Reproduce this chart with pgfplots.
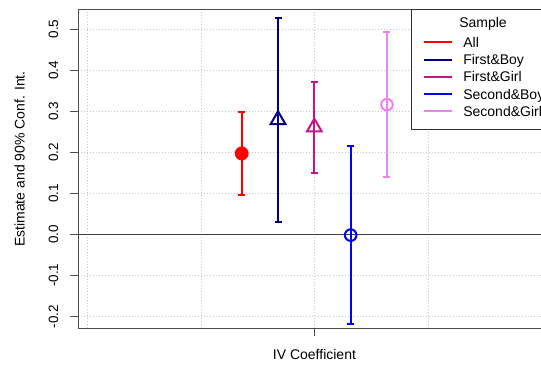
\documentclass[border=0pt]{standalone}
\usepackage{pgfplots}
\pgfplotsset{compat=1.18}
\usepackage{fontspec}
\setmainfont{Liberation Sans}
\definecolor{cAll}{HTML}{FF0000}
\definecolor{cFB}{HTML}{000080}
\definecolor{cFG}{HTML}{C71585}
\definecolor{cSB}{HTML}{0000FF}
\definecolor{cSG}{HTML}{EE82EE}
\begin{document}
\fontsize{14bp}{16bp}\selectfont
\begin{tikzpicture}
\useasboundingbox (-78.3bp,-36.7bp) rectangle (462.7bp,328.3bp);
\begin{axis}[
  at={(0,0)}, anchor=south west,
  scale only axis, width=463bp, height=319.3bp,
  xmin=0.584, xmax=1.4, ymin=-0.229, ymax=0.549,
  axis line style={black!70, line width=0.8bp},
  xtick={1}, xticklabels={}, minor xtick={0.6,0.8,1.2,1.4},
  ytick={-0.2,-0.1,0,0.1,0.2,0.3,0.4,0.5},
  yticklabels={-0.2,-0.1,0.0,0.1,0.2,0.3,0.4,0.5},
  tick align=outside, major tick length=8bp, minor tick length=0pt,
  tick style={black!70, line width=0.8bp},
  xtick pos=bottom, ytick pos=left,
  xmajorgrids, xminorgrids, ymajorgrids,
  major grid style={black!22, line width=0.6bp, dash pattern=on 1bp off 2bp},
  minor grid style={black!22, line width=0.6bp, dash pattern=on 1bp off 2bp},
  yticklabel style={rotate=90, anchor=south, inner sep=0pt},
  yticklabel shift=11.8bp,
  ticklabel style={font=\fontsize{13.5bp}{16bp}\selectfont},
  ylabel={Estimate and 90\% Conf. Int.},
  ylabel style={at={(axis description cs:-0.127,0.53)}, anchor=center, font=\fontsize{14bp}{16bp}\selectfont},
  xlabel={IV Coefficient},
  xlabel style={at={(axis description cs:0.51,0)}, anchor=center, yshift=-25.7bp, font=\fontsize{14bp}{16bp}\selectfont},
  legend style={at={(0.7186,1)}, anchor=north west, draw=black!80, line width=0.6bp,
    inner xsep=11.3bp, inner ysep=10.3bp, row sep=3.75bp, column sep=10.7bp,
    nodes={inner sep=0pt, text height=10.5bp, text depth=3bp, anchor=base west},
    font=\fontsize{14bp}{16bp}\selectfont},
  legend cell align=left,
  legend image code/.code={\draw[#1, line width=2bp] (0bp,5bp) -- (28bp,5bp);},
  error bars/y dir=both, error bars/y explicit,
  error bars/error bar style={line width=2bp},
  error bars/error mark options={rotate=90, mark size=3.5bp, line width=2bp},
]
\addplot[black!75, line width=0.8bp, forget plot] coordinates {(0.584,0) (1.4,0)};
\addplot[only marks, cAll, mark=*, mark size=6.5bp, mark options={line width=0.8bp}, forget plot]
  coordinates {(0.872,0.197) +- (0,0.102)};
\addplot[only marks, cFB, mark=triangle, mark size=8.5bp, mark options={line width=2bp}, forget plot]
  coordinates {(0.936,0.279) +- (0,0.249)};
\addplot[only marks, cFG, mark=triangle, mark size=8.5bp, mark options={line width=2bp}, forget plot]
  coordinates {(1.0,0.261) +- (0,0.111)};
\addplot[only marks, cSB, mark=o, mark size=5.8bp, mark options={line width=2bp}, forget plot]
  coordinates {(1.064,-0.002) +- (0,0.216)};
\addplot[only marks, cSG, mark=o, mark size=5.8bp, mark options={line width=2bp}, forget plot]
  coordinates {(1.128,0.316) +- (0,0.176)};
\addlegendimage{empty legend}
\addlegendentry{\hspace{-4bp}\raisebox{2.8bp}{Sample}}
\addlegendimage{cAll}
\addlegendentry{All}
\addlegendimage{cFB}
\addlegendentry{First\&Boy}
\addlegendimage{cFG}
\addlegendentry{First\&Girl}
\addlegendimage{cSB}
\addlegendentry{Second\&Boy}
\addlegendimage{cSG}
\addlegendentry{Second\&Girl}
\end{axis}
\end{tikzpicture}
\end{document}
